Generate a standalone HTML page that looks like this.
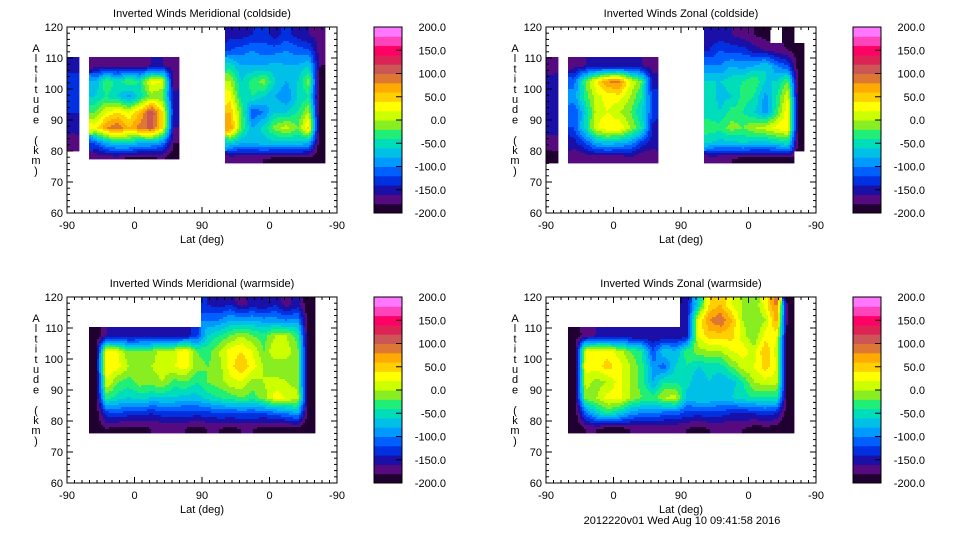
<!DOCTYPE html>
<html><head><meta charset="utf-8">
<style>
html,body{margin:0;padding:0;background:#fff;}
svg{display:block;font-family:"Liberation Sans",sans-serif;}
</style></head>
<body>
<svg id="chart" width="960" height="540" viewBox="0 0 960 540"></svg>
<script>
// ---------- DATA (wind speed m/s, 5 km altitude rows from 120 km downward, 15-degree lat bins) ----------
const N = null;
const altTicks = [60,70,80,90,100,110,120];
const latTickLabels = ["-90","0","90","0","-90"];
const cbarLabels = ["200.0","150.0","100.0","50.0","0.0","-50.0","-100.0","-150.0","-200.0"];
// lowest altitude of each data block (km): [left, right] per panel
const merCold_floor = [77.5, 76];
const zonCold_floor = [76, 76];
const merWarm_floor = [76, 76];
const zonWarm_floor = [76, 76];
// panel 1: meridional coldside
const merCold_leftStart = 0;
const merCold_left = [ // rows 2..8
 [-150,N,-170,-170,-170,-170,-170,-160,-160,-170],
 [-130,N,-80,-20,-50,-20,-40,30,20,-180],
 [-130,N,-60,-40,-60,-90,-50,-10,-20,-150],
 [-140,N,-20,20,40,20,60,120,40,-150],
 [-150,N,30,80,100,60,90,110,40,-160],
 [-180,N,-120,-80,-60,-60,-80,-80,-100,-180],
 [N,N,-180,-180,-180,-190,-190,-190,-180,-200]
];
const merCold_rightStart = 14;
const merCold_right = [ // rows 0..8
 [-150,-150,-140,-130,-150,-130,-150,-160,-170],
 [-120,-110,-100,-110,-110,-100,-110,-120,-170],
 [-50,-80,-80,-80,-70,-80,-80,-60,-180],
 [0,-60,-30,-10,-60,-80,-60,-10,-200],
 [30,-50,-40,-60,-80,-100,-60,-40,-200],
 [60,-20,-120,-100,-60,-60,-40,0,-200],
 [80,-20,-80,-50,-10,10,-20,50,-200],
 [-60,-80,-80,-70,-70,-70,-70,-80,-200],
 [-180,-180,-180,-180,-190,-190,-190,-190,-200]
];
// panel 2: zonal coldside
const zonCold_leftStart = 0;
const zonCold_left = [
 [-180,N,-170,-160,-160,-160,-160,-160,-160,-170],
 [-150,N,-110,-20,40,80,90,20,-20,-150],
 [-150,N,-90,-30,10,30,30,0,-40,-130],
 [-150,N,-120,-60,10,20,0,-20,-60,-120],
 [-150,N,-120,-50,20,40,40,0,-40,-150],
 [-170,N,-150,-120,-80,-70,-80,-90,-130,-150],
 [-190,N,-180,-180,-180,-180,-180,-170,-180,-180]
];
const zonCold_rightStart = 14;
const zonCold_right = [
 [-160,-150,-160,-170,-180,-190,N,-190,N],
 [-140,-120,-130,-130,-150,-160,-170,-180,-190],
 [-100,-100,-80,-90,-80,-60,-100,-120,-200],
 [-60,-60,-50,-40,-20,-60,-60,-20,-200],
 [-40,-70,-60,-30,-40,-90,-40,20,-200],
 [-50,-60,-30,-40,-60,-90,-30,40,-200],
 [-30,-30,-10,-20,0,10,30,40,-200],
 [-60,-70,-70,-60,-70,-70,-60,-50,-200],
 [-180,-180,-180,-190,-190,-190,-190,-190,N]
];
// panel 3: meridional warmside
const merWarm_leftStart = 2;
const merWarm_left = [
 [-200,-160,-160,-160,-160,-160,-160,-150,-150,-130],
 [-200,30,20,-20,-10,-10,10,10,40,-20],
 [-200,40,30,0,-10,0,10,20,30,-10],
 [-200,20,-20,-30,-10,-10,0,-30,-20,-40],
 [-200,-30,-50,-60,-50,-60,-60,-60,-70,-70],
 [-200,-130,-120,-130,-130,-140,-130,-130,-130,-130],
 [-200,-180,-190,-190,-190,-180,-180,-180,-180,-190]
];
const merWarm_rightStart = 12;
const merWarm_right = [
 [-140,-150,-140,-170,-150,-160,-140,-170,-150,-200],
 [-100,-100,-80,-80,-80,-90,-90,-100,-90,-200],
 [-60,-40,-20,0,-20,-30,0,0,-30,-200],
 [-30,0,30,40,20,-20,20,10,-10,-200],
 [-20,-10,30,60,30,0,-20,-10,-10,-200],
 [-20,-10,10,20,-10,0,10,0,-10,-200],
 [-50,-40,-30,-20,-30,-10,30,20,10,-200],
 [-130,-120,-120,-120,-120,-120,-110,-100,-80,-200],
 [-180,-180,-190,-180,-180,-190,-190,-190,-190,-200]
];
// panel 4: zonal warmside
const zonWarm_leftStart = 2;
const zonWarm_left = [
 [-200,-170,-160,-160,-160,-160,-160,-160,-160,-160],
 [-200,20,30,30,10,-20,-40,-120,-60,-80],
 [-200,30,30,50,30,0,-30,-90,-110,-60],
 [-200,10,-10,0,30,0,-30,-80,-40,-40],
 [-200,-10,0,30,30,0,-20,-30,0,10],
 [-200,-110,-60,-40,-60,-90,-100,-100,-110,-110],
 [-200,-180,-180,-190,-190,-180,-180,-180,-180,-180]
];
const zonWarm_rightStart = 12;
const zonWarm_right = [
 [-150,-60,40,60,20,0,-20,30,90,-200],
 [-150,20,80,100,60,0,-20,0,70,-200],
 [-150,20,50,50,50,10,-20,30,30,-200],
 [-30,-10,0,0,20,30,10,60,10,-200],
 [-40,-60,-50,-50,-20,10,20,50,20,-200],
 [-50,-80,-60,-80,-70,-40,0,10,10,-200],
 [-70,-60,-60,-70,-60,-50,-40,-40,-40,-200],
 [-130,-130,-130,-130,-140,-140,-140,-130,-140,-200],
 [-180,-190,-180,-180,-180,-180,-190,-190,-190,-200]
];
// color levels from -200 (index 0) to 200 (index 19), 20 bands of 20
const levelColors = ["#200030","#550a80","#1a10a8","#0030e0","#0060ff","#0099ff","#00c0e8","#00ddbb","#20ee77","#88ee22",
                     "#ccff00","#ffff00","#ffd000","#ffaa00","#dd7733","#cc5555","#dd2255","#ff0066","#ff44bb","#ff77ff"];

// ---------- RENDER ----------
const svg = document.getElementById('chart');
const NS = 'http://www.w3.org/2000/svg';
function mk(tag, attrs, parent){ const e=document.createElementNS(NS,tag); for(const k in attrs) e.setAttribute(k,attrs[k]); (parent||svg).appendChild(e); return e; }

const PW=270, PH=186, NCOL=24, NROW=9;
const panels = [
 {x0:67,y0:27,title:"Inverted Winds Meridional (coldside)",ls:merCold_leftStart,lr:2,left:merCold_left,rs:merCold_rightStart,rr:0,right:merCold_right,floor:merCold_floor,name:"meridional-coldside"},
 {x0:546,y0:27,title:"Inverted Winds Zonal (coldside)",ls:zonCold_leftStart,lr:2,left:zonCold_left,rs:zonCold_rightStart,rr:0,right:zonCold_right,floor:zonCold_floor,name:"zonal-coldside"},
 {x0:67,y0:297,title:"Inverted Winds Meridional (warmside)",ls:merWarm_leftStart,lr:2,left:merWarm_left,rs:merWarm_rightStart,rr:0,right:merWarm_right,floor:merWarm_floor,name:"meridional-warmside"},
 {x0:546,y0:297,title:"Inverted Winds Zonal (warmside)",ls:zonWarm_leftStart,lr:2,left:zonWarm_left,rs:zonWarm_rightStart,rr:0,right:zonWarm_right,floor:zonWarm_floor,name:"zonal-warmside"}
];
function xScale(p, latIndex){ return p.x0 + latIndex/360*PW; }
function yScale(p, alt){ return p.y0 + (120-alt)/60*PH; }
function colorFor(v){ let i=Math.floor((v+200)/20); if(i<0)i=0; if(i>19)i=19; return levelColors[i]; }

function buildGrid(p){
  const g=[]; for(let r=0;r<NROW;r++){ g.push(new Array(NCOL).fill(null)); }
  p.left.forEach((row,i)=>row.forEach((v,j)=>{ g[p.lr+i][p.ls+j]=v; }));
  p.right.forEach((row,i)=>row.forEach((v,j)=>{ g[p.rr+i][p.rs+j]=v; }));
  return g;
}

panels.forEach(p=>{
  const G = mk('g',{});  
  const grid = buildGrid(p);
  const cw = xScale(p,15)-xScale(p,0), rh = yScale(p,115)-yScale(p,120);
  const heat = mk('g',{},G);
  
  
  const step=2;
  const gx0=xScale(p,0), gy0=yScale(p,120);
  const leftFloorY=yScale(p,p.floor[0])-gy0, rightFloorY=yScale(p,p.floor[1])-gy0;
  for(let py=0; py<NROW*rh; py+=step){
    let runStart=null, runColor=null;
    const flush=(end)=>{ if(runStart!==null){ const r=mk('rect',{x:gx0+runStart,y:gy0+py,width:end-runStart+0.4,height:step+0.4,fill:runColor},heat);   } runStart=null; runColor=null; };
    for(let px=0; px<PW; px+=step){
      const cx=px+step/2, cy=py+step/2;
      const ci=Math.min(NCOL-1,Math.floor(cx/cw)), ri=Math.min(NROW-1,Math.floor(cy/rh));
      const own=grid[ri][ci];
      const fl = ci < p.rs ? leftFloorY : rightFloorY;
      if(own===null || cy>fl){ flush(px); continue; }
      const u=cx/cw-0.5, v=cy/rh-0.5;
      const i0=Math.floor(v), j0=Math.floor(u), fu=u-j0, fv=v-i0;
      const get=(i,j)=>{ if(i<0||j<0||i>=NROW||j>=NCOL) return own; const val=grid[i][j]; return val===null?own:val; };
      const val=(1-fv)*((1-fu)*get(i0,j0)+fu*get(i0,j0+1)) + fv*((1-fu)*get(i0+1,j0)+fu*get(i0+1,j0+1));
      const c=colorFor(val);
      if(c!==runColor){ flush(px); runStart=px; runColor=c; }
    }
    flush(PW);
  }
  const fr=mk('rect',{x:p.x0,y:p.y0,width:PW,height:PH,fill:'none',stroke:'#000','stroke-width':1},G);
   
  for(let a=60;a<=120;a+=2){
    const y=yScale(p,a), len=(a%10===0)?6:3;
    mk('line',{x1:p.x0,y1:y,x2:p.x0+len,y2:y,stroke:'#000'},G);
    mk('line',{x1:p.x0+PW,y1:y,x2:p.x0+PW-len,y2:y,stroke:'#000'},G);
  }
  altTicks.forEach(a=>{
    const t=mk('text',{x:p.x0-4,y:yScale(p,a)+4,'font-size':11,'text-anchor':'end'},G); t.textContent=a;
     
  });
  for(let li=0;li<=360;li+=10){
    const x=xScale(p,li), len=(li%90===0)?6:3;
    mk('line',{x1:x,y1:p.y0+PH,x2:x,y2:p.y0+PH-len,stroke:'#000'},G);
    mk('line',{x1:x,y1:p.y0,x2:x,y2:p.y0+len,stroke:'#000'},G);
  }
  latTickLabels.forEach((l,i)=>{
    const t=mk('text',{x:xScale(p,i*90),y:p.y0+PH+16,'font-size':11,'text-anchor':'middle'},G); t.textContent=l;
     
  });
  const xt=mk('text',{x:p.x0+PW/2,y:p.y0+PH+30,'font-size':11,'text-anchor':'middle'},G); xt.textContent='Lat (deg)';
   
  const tt=mk('text',{x:p.x0+PW/2,y:p.y0-10,'font-size':11,'text-anchor':'middle'},G); tt.textContent=p.title;
   
  const yt=mk('text',{'font-size':11,'text-anchor':'middle'},G);
   
  const s="Altitude (km)";
  for(let i=0;i<s.length;i++){ const ts=mk('tspan',{x:p.x0-31,y:p.y0+25+i*10.2},yt); ts.textContent=s[i]; }
  const cbx=p.x0+307, cbw=28;
  const cb=mk('g',{},G);  
  const bh=PH/levelColors.length;
  levelColors.forEach((c,i)=>{ mk('rect',{x:cbx,y:p.y0+PH-(i+1)*bh,width:cbw,height:bh+0.5,fill:c},cb); });
  mk('rect',{x:cbx,y:p.y0,width:cbw,height:PH,fill:'none',stroke:'#000'},cb);
  cbarLabels.forEach((l,i)=>{
    const y=p.y0+i*PH/8;
    if(i>0&&i<8) mk('line',{x1:cbx+cbw-6,y1:y,x2:cbx+cbw,y2:y,stroke:'#000'},cb);
    const t=mk('text',{x:cbx+72,y:y+4,'font-size':11,'text-anchor':'end'},cb); t.textContent=l;
     
  });
});
const ts=mk('text',{x:682,y:524,'font-size':11,'text-anchor':'middle'}); ts.textContent='2012220v01 Wed Aug 10 09:41:58 2016';
 
</script>
</body></html>
